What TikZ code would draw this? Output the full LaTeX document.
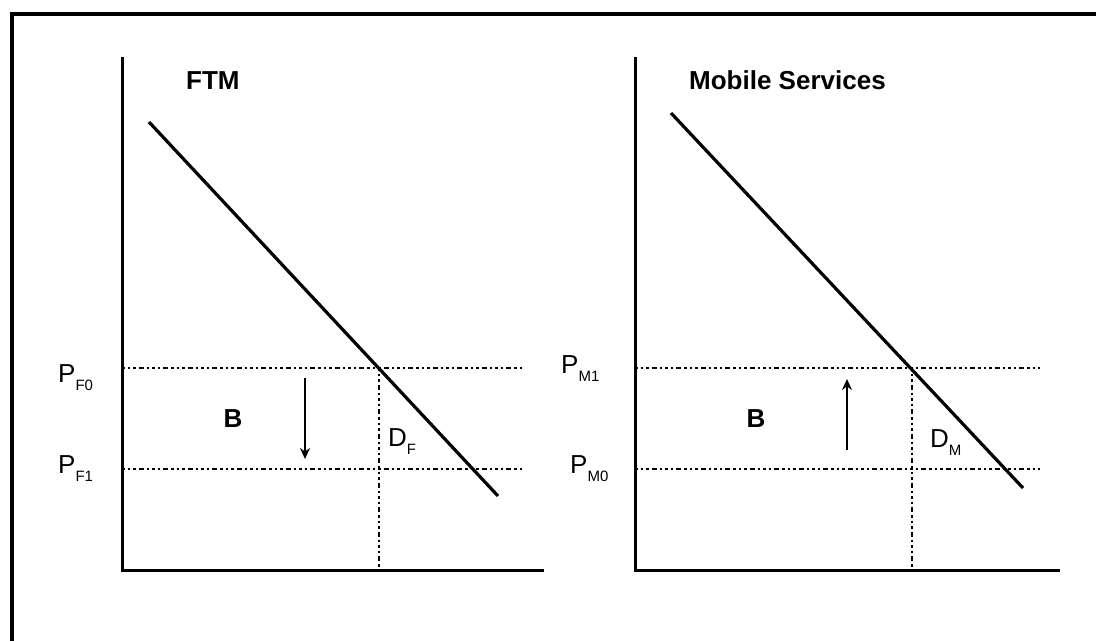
\documentclass[tikz,border=0pt]{standalone}
\usepackage{fontspec}
\setmainfont{Liberation Sans}
\usetikzlibrary{arrows.meta}

\tikzset{
  axis/.style={line width=3pt},
  demand/.style={line width=3.2pt},
  level/.style={line width=2.4pt, dash pattern=on 2.5pt off 3pt on 2.5pt off 3pt on 2.5pt off 3pt on 5pt off 3pt},
  shift arrow/.style={line width=2.4pt, -{Stealth[length=11pt,width=10pt]}},
  lbl/.style={inner sep=0pt, anchor=base west, font=\fontsize{26}{30}\selectfont},
}
\newcommand{\sublabel}[2]{#1{\fontsize{15}{15}\selectfont\raisebox{-8pt}{#2}}}

\begin{document}
\begin{tikzpicture}[x=1pt,y=-1pt]
    \useasboundingbox (0,0) rectangle (1096,641);
    \draw[line width=3.5pt] (12,641) -- (12,14) -- (1096,14);

    % FTM
    \draw[axis] (122,57) -- (122,570) -- (544,570);
    \draw[level] (122,368) -- (524,368);
    \draw[level] (122,469) -- (524,469);
    \draw[level] (379,368) -- (379,570);
    \draw[demand] (149,122) -- (498,496);
    \draw[shift arrow] (305,378) -- (305,459);
    \node[lbl] (ftm) at (186,89) {\bfseries FTM};
    \node[lbl] (pf0) at (58,382) {\sublabel{P}{F0}};
    \node[lbl] (pf1) at (58,473) {\sublabel{P}{F1}};
    \node[lbl, anchor=base] (bf) at (233,427) {\bfseries B};
    \node[lbl] (df) at (388,446) {\sublabel{D}{F}};

    % Mobile Services
    \draw[axis] (635,57) -- (635,570) -- (1060,570);
    \draw[level] (635,368) -- (1040,368);
    \draw[level] (635,469) -- (1040,469);
    \draw[level] (912,368) -- (912,570);
    \draw[demand] (671,113) -- (1023,488);
    \draw[shift arrow] (847,450) -- (847,379);
    \node[lbl] (mob) at (689,89) {\bfseries Mobile Services};
    \node[lbl] (pm1) at (561,373) {\sublabel{P}{M1}};
    \node[lbl] (pm0) at (570,473) {\sublabel{P}{M0}};
    \node[lbl, anchor=base] (bm) at (756,427) {\bfseries B};
    \node[lbl] (dm) at (930,447) {\sublabel{D}{M}};
\end{tikzpicture}
\end{document}
